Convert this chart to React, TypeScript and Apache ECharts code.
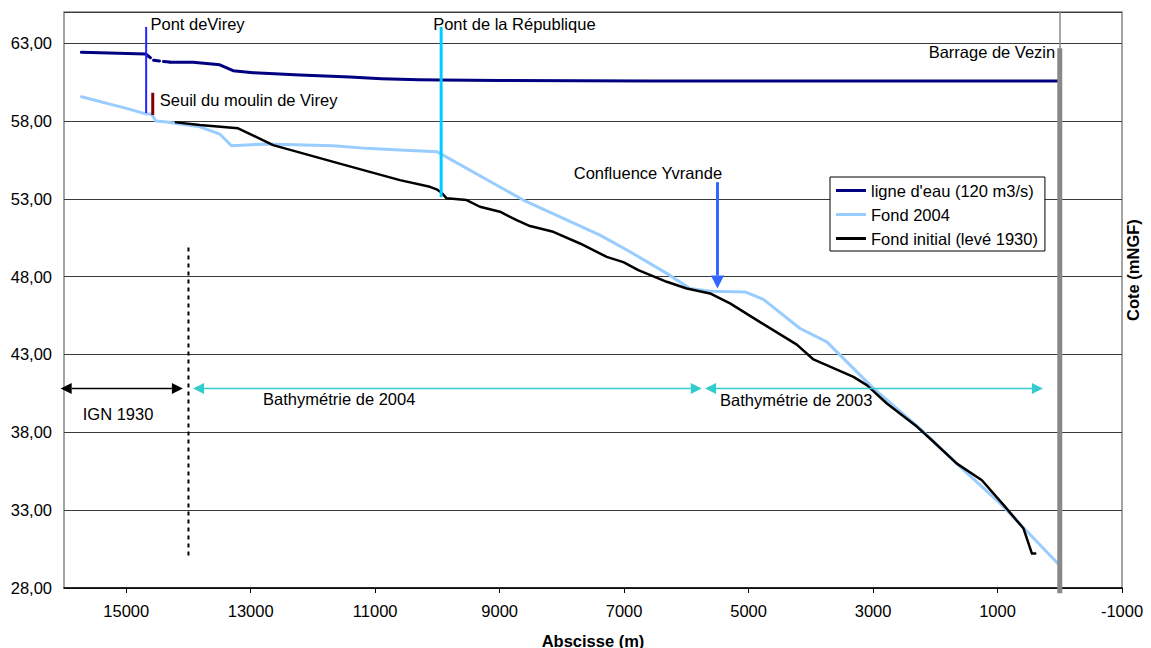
import React, { useEffect, useRef } from "react";
import * as echarts from "echarts";

// ---- data (abscisse m, cote mNGF) ----
const waterName = "ligne d'eau (120 m3/s)";
const fond2004Name = "Fond 2004";
const fond1930Name = "Fond initial (levé 1930)";

const waterUpstream: [number, number][] = [
  [15720, 62.41], [14687, 62.3],
];
const waterDashed: [number, number][] = [
  [14687, 62.3], [14560, 61.9], [14300, 61.78],
];
const waterDownstream: [number, number][] = [
  [14300, 61.78], [13926, 61.77], [13497, 61.61], [13283, 61.23], [12961, 61.1],
  [12211, 60.95], [11407, 60.82], [10900, 60.72], [10300, 60.65], [9944, 60.63],
  [8996, 60.6], [6584, 60.57], [0, 60.57],
];
const fond2004: [number, number][] = [
  [15720, 59.56], [14997, 58.81], [14675, 58.44], [14595, 58.44], [14525, 58.0],
  [14350, 57.93], [13818, 57.63], [13497, 57.16], [13309, 56.41], [12746, 56.52],
  [11675, 56.41], [11138, 56.24], [10603, 56.13], [10010, 56.03], [8620, 52.92],
  [7387, 50.67], [6905, 49.6], [6315, 48.21], [5944, 47.24], [5619, 47.07],
  [5056, 47.02], [4762, 46.54], [4172, 44.67], [3743, 43.81], [2994, 40.82],
  [2243, 38.24], [1600, 35.78], [957, 33.43], [0, 29.45],
];
const fond1930: [number, number][] = [
  [14200, 57.91], [13818, 57.74], [13203, 57.53], [12640, 56.45], [11540, 55.23],
  [10603, 54.2], [10121, 53.77], [10013, 53.61], [9933, 53.39], [9852, 53.03],
  [9531, 52.92], [9317, 52.49], [8995, 52.17], [8727, 51.63], [8513, 51.25],
  [8138, 50.88], [7709, 50.13], [7280, 49.27], [7013, 48.93], [6772, 48.42],
  [6315, 47.67], [5994, 47.24], [5619, 46.92], [5298, 46.28], [4815, 45.08],
  [4225, 43.63], [3958, 42.68], [3315, 41.56], [3100, 41.03], [2778, 39.85],
  [2323, 38.46], [2055, 37.49], [1653, 35.99], [1251, 34.92], [876, 33.21],
  [582, 31.82], [447, 30.21], [394, 30.21],
];

// axis settings
const xMin = -1000;
const xMax = 16000;
const xInterval = 2000;
const yMin = 28;
const yMax = 65;
const yInterval = 5;

// annotations in data coordinates
const verticalMarks = [
  { x: 14680, y0: 64.04, y1: 58.51, color: "#2424FF", width: 2, dash: null as number[] | null, head: false },
  { x: 14574, y0: 59.81, y1: 58.38, color: "#800000", width: 3, dash: null, head: false },
  { x: 9940, y0: 64.04, y1: 53.11, color: "#00CCFF", width: 3, dash: null, head: false },
  { x: 0, y0: 62.67, y1: 27.66, color: "#888888", width: 5, dash: null, head: false },
  { x: 14000, y0: 49.88, y1: 29.93, color: "#000000", width: 2, dash: [4, 4], head: false },
  { x: 5500, y0: 54.07, y1: 47.24, color: "#3366FF", width: 3, dash: null, head: true },
];
const rangeArrows = [
  { x0: 16053, x1: 14090, y: 40.82, color: "#000000" },
  { x0: 13926, x1: 5753, y: 40.82, color: "#33CCCC" },
  { x0: 5699, x1: 270, y: 40.82, color: "#33CCCC" },
];
const labels = [
  { text: "Pont deVirey", x: 14611, y: 64.23, align: "left" },
  { text: "Seuil du moulin de Virey", x: 14461, y: 59.34, align: "left" },
  { text: "Pont de la République", x: 10068, y: 64.23, align: "left" },
  { text: "Confluence Yvrande", x: 5426, y: 54.65, align: "right" },
  { text: "Barrage de Vezin", x: 73, y: 62.43, align: "right" },
  { text: "IGN 1930", x: 15699, y: 39.15, align: "left" },
  { text: "Bathymétrie de 2004", x: 12801, y: 40.11, align: "left" },
  { text: "Bathymétrie de 2003", x: 5458, y: 40.06, align: "left" },
];

const FONT = "'Liberation Sans', Arial, sans-serif";
const FS = 16.5;

export default function App() {
  const ref = useRef<HTMLDivElement>(null);

  useEffect(() => {
    document.body.style.margin = "0";
    if (!ref.current) return;
    const chart = echarts.init(ref.current, undefined, { renderer: "svg" });

    const lineSeries = (name: string, data: [number, number][], color: string, width: number, dashed = false, z = 2) => ({
      type: "line",
      name,
      data,
      symbol: "none",
      showSymbol: false,
      z,
      lineStyle: { color, width, type: dashed ? [6, 4] : "solid", cap: "round", join: "round" },
      itemStyle: { color },
      emphasis: { disabled: true },
    });

    chart.setOption({
      animation: false,
      textStyle: { fontFamily: FONT },
      grid: {
        left: 64,
        right: 29,
        top: 12,
        bottom: 60,
        outerBoundsMode: "none",
        containLabel: false,
        show: true,
        borderColor: "#888",
        borderWidth: 1.5,
        backgroundColor: "transparent",
      },
      legend: {
        data: [waterName, fond2004Name, fond1930Name],
        orient: "vertical",
        left: 830,
        top: 177,
        padding: [5, 7, 4, 6],
        itemGap: 7,
        itemWidth: 30,
        itemHeight: 14,
        icon: "path://M0,0 H30 V3 H0 Z",
        backgroundColor: "#fff",
        borderColor: "#000",
        borderWidth: 1,
        textStyle: { fontSize: FS, color: "#000", fontFamily: FONT },
        selectedMode: false,
        z: 10,
      },
      xAxis: {
        type: "value",
        inverse: true,
        min: xMin,
        max: xMax,
        interval: xInterval,
        name: "Abscisse (m)",
        nameLocation: "middle",
        nameGap: 44,
        nameTextStyle: { fontSize: FS, fontWeight: "bold", color: "#000", fontFamily: FONT },
        axisLine: { lineStyle: { color: "#000", width: 1.5 } },
        axisTick: { show: true, length: 5, lineStyle: { color: "#000" } },
        axisLabel: {
          fontSize: FS,
          color: "#000",
          margin: 14,
          showMaxLabel: false,
          formatter: (v: number) => String(v),
        },
        splitLine: { show: false },
      },
      yAxis: {
        type: "value",
        min: yMin,
        max: yMax,
        interval: yInterval,
        axisLine: { show: true, lineStyle: { color: "#888", width: 1.5 } },
        axisTick: { show: false },
        axisLabel: {
          fontSize: FS,
          color: "#000",
          margin: 12,
          showMaxLabel: false,
          formatter: (v: number) => v.toFixed(2).replace(".", ","),
        },
        splitLine: { show: true, lineStyle: { color: "#3a3a3a", width: 1 } },
      },
      series: [
        lineSeries(waterName, waterUpstream, "#000080", 3),
        lineSeries(fond2004Name, fond2004, "#99CCFF", 3),
        lineSeries(fond1930Name, fond1930, "#000000", 2.5, false, 3),
        lineSeries(waterName, waterDashed, "#000080", 3, true),
        lineSeries(waterName, waterDownstream, "#000080", 3),
      ],
    });

    const px = (x: number, y: number) => chart.convertToPixel({ gridIndex: 0 }, [x, y]) as number[];
    const graphics: any[] = [];

    verticalMarks.forEach((m) => {
      const a = px(m.x, m.y0);
      const b = px(m.x, m.y1);
      const headLen = 13;
      const endY = m.head ? b[1] - headLen : b[1];
      graphics.push({
        type: "line",
        z: 20,
        shape: { x1: a[0], y1: a[1], x2: b[0], y2: endY },
        style: { stroke: m.color, lineWidth: m.width, lineDash: m.dash || undefined },
      });
      if (m.head) {
        graphics.push({
          type: "polygon",
          z: 20,
          shape: { points: [[b[0] - 6.5, endY], [b[0] + 6.5, endY], [b[0], b[1]]] },
          style: { fill: m.color },
        });
      }
    });

    rangeArrows.forEach((r) => {
      const a = px(r.x0, r.y);
      const b = px(r.x1, r.y);
      const L = 11;
      const H = 5.5;
      graphics.push({
        type: "line",
        z: 20,
        shape: { x1: a[0] + L, y1: a[1], x2: b[0] - L, y2: b[1] },
        style: { stroke: r.color, lineWidth: 1.5 },
      });
      graphics.push({
        type: "polygon",
        z: 20,
        shape: { points: [[a[0], a[1]], [a[0] + L, a[1] - H], [a[0] + L, a[1] + H]] },
        style: { fill: r.color },
      });
      graphics.push({
        type: "polygon",
        z: 20,
        shape: { points: [[b[0], b[1]], [b[0] - L, b[1] - H], [b[0] - L, b[1] + H]] },
        style: { fill: r.color },
      });
    });

    labels.forEach((l) => {
      const p = px(l.x, l.y);
      graphics.push({
        type: "text",
        z: 21,
        x: p[0],
        y: p[1],
        style: {
          text: l.text,
          fill: "#000",
          fontSize: FS,
          fontFamily: FONT,
          align: l.align,
          verticalAlign: "middle",
        },
      });
    });

    graphics.push({
      type: "text",
      z: 21,
      x: 1133,
      y: 270,
      rotation: Math.PI / 2,
      style: {
        text: "Cote (mNGF)",
        fill: "#000",
        fontSize: FS,
        fontWeight: "bold",
        fontFamily: FONT,
        align: "center",
        verticalAlign: "middle",
      },
    });

    chart.setOption({ graphic: graphics });

    return () => chart.dispose();
  }, []);

  return <div ref={ref} style={{ width: 1151, height: 648 }} />;
}
